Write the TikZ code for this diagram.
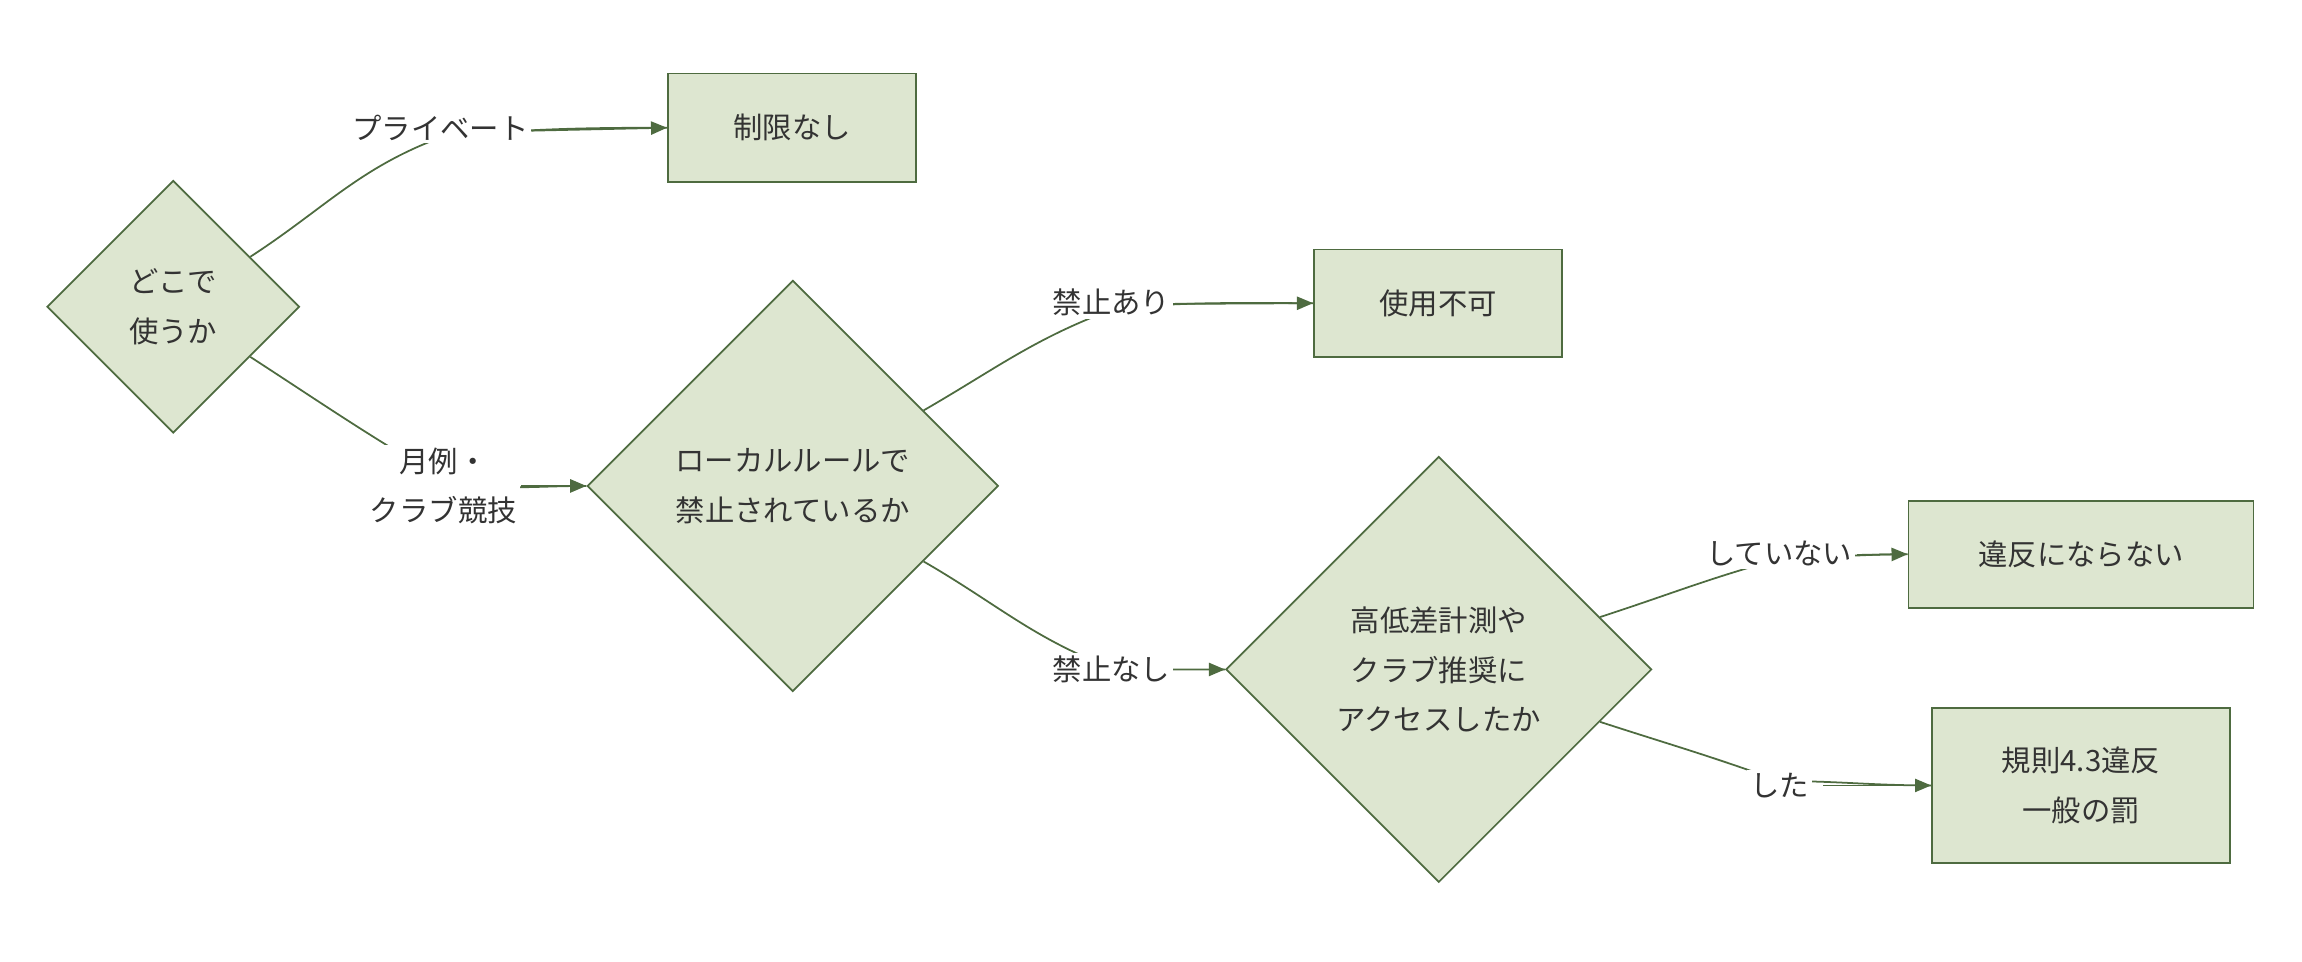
\documentclass[tikz,border=0pt]{standalone}
\usepackage{fontspec}
\setmainfont{Noto Sans CJK JP}
\usetikzlibrary{shapes.geometric,arrows.meta}
\definecolor{fillg}{HTML}{DDE6D0}
\definecolor{lineg}{HTML}{4E6B40}
\definecolor{txt}{HTML}{333333}
\begin{document}
\begin{tikzpicture}[x=1pt,y=-1pt,
  every node/.style={font=\fontsize{20}{34}\selectfont, text=txt, align=center},
  dia/.style={diamond, aspect=1, draw=lineg, fill=fillg, line width=1.2pt, inner sep=0pt},
  box/.style={rectangle, draw=lineg, fill=fillg, line width=1.2pt, inner sep=0pt},
  lbl/.style={fill=white, inner sep=2pt},
  con/.style={draw=lineg, line width=1.2pt},
  arr/.style={con, -{Triangle[length=11pt,width=9pt]}}]
\useasboundingbox (0,0) rectangle (1568,655);
\node[dia, minimum width=172pt, minimum height=172pt] (d1) at (118,209) {どこで\\使うか};
\node[box, minimum width=169pt, minimum height=74pt] (b1) at (539.5,87) {制限なし};
\node[dia, minimum width=280pt, minimum height=280pt] (d2) at (540,331) {ローカルルールで\\禁止されているか};
\node[box, minimum width=169pt, minimum height=73pt] (b2) at (979.5,206.5) {使用不可};
\node[dia, minimum width=290pt, minimum height=290pt] (d3) at (980,456) {高低差計測や\\クラブ推奨に\\アクセスしたか};
\node[box, minimum width=235pt, minimum height=73pt] (b3) at (1417.5,377.5) {違反にならない};
\node[box, minimum width=203pt, minimum height=106pt] (b4) at (1417.5,535) {規則4.3違反\\一般の罰};

\coordinate (l1) at (302,93);
\coordinate (l2) at (305,328);
\coordinate (l3) at (760,210);
\coordinate (l4) at (760,456);
\coordinate (l5) at (1215,380);
\coordinate (l6) at (1212,532);
\path[con] (d1.33) to[out=33,in=200] (l1) to[out=5,in=180] (b1.west);
\path[con] (d1.-33) to[out=-33,in=150] (l2) to[out=-10,in=180] (d2.west);
\path[con] (d2.30) to[out=30,in=200] (l3) to[out=5,in=180] (b2.west);
\path[con] (d2.-30) to[out=-30,in=160] (l4) to[out=0,in=180] (d3.west);
\path[con] (d3.18) to[out=18,in=195] (l5) to[out=0,in=180] (b3.west);
\path[con] (d3.-18) to[out=-18,in=160] (l6) to[out=0,in=180] (b4.west);
\draw[arr] (l1) ++(60,-4) -- (b1.west);
\draw[arr] (l2) ++(50,3) -- (d2.west);
\draw[arr] (l3) ++(38,-3) -- (b2.west);
\draw[arr] (l4) ++(40,0) -- (d3.west);
\draw[arr] (l5) ++(50,-2) -- (b3.west);
\draw[arr] (l6) ++(30,3) -- (b4.west);
\node[lbl] (t1) at (300,87) {プライベート};
\node[lbl] (t2) at (302,331) {月例・\\クラブ競技};
\node[lbl] (t3) at (757,206) {禁止あり};
\node[lbl] (t4) at (757,456) {禁止なし};
\node[lbl] (t5) at (1212,377) {していない};
\node[lbl] (t6) at (1212,535) {した};
\end{tikzpicture}
\end{document}
